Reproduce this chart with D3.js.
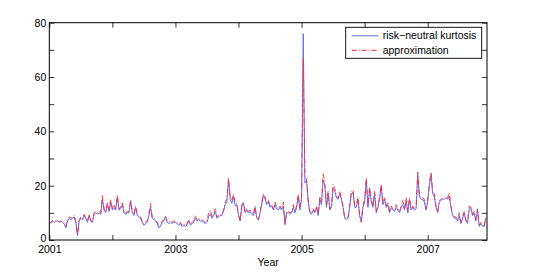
<!DOCTYPE html>
<html><head><meta charset="utf-8">
<script src="https://cdn.jsdelivr.net/npm/d3@7"></script>
<style>body{margin:0;background:#fff}svg{display:block}text{font-family:"Liberation Sans",Arial,Helvetica,sans-serif}</style>
</head><body><svg id="c" width="545" height="274"></svg>
<script>
const years = [2001, 2002, 2003, 2004, 2005, 2006, 2007];
const yTicks = [0, 10, 20, 30, 40, 50, 60, 70, 80];
const pointsPerYear = 38;
const seriesNames = ["risk\u2212neutral kurtosis", "approximation"];

const kurt2001 = [6,6.5,7,6.5,7,7,6.5,7,6.5,6,4.5,7,8,7.5,8,8.5,6.5,1.5,7,8,7.5,9,8,6.5,9,7,6.5,9.5,10,9.5,10,9.5,15,11,10,13,10.5,14];
const kurt2002 = [11,12,11,16,11,11.5,13,10,9.5,10,10,14.5,10,9,12,9,8.5,8,6.5,5.5,6,6.5,9,12,8,7.5,7,6,4.5,5,6.5,7,8.5,6.5,6,6.5,6,6.5];
const kurt2003 = [6.5,6,5.5,6,5,5.5,5,5.5,7,5.5,6,6.5,8,7,7.5,7,7,6.5,6,6.5,8.5,9.5,8,9,10.5,8,8.5,9,9,10.5,13,14,22,15,13.5,16,12.5,13];
const kurt2004 = [9,7,12.5,13.5,10,11,10,10.5,9.5,9,12,8,7.5,10,13,16.5,15,13,14,12,12.5,11,13,11.5,11,12,11,12.5,6,10,10,9.5,10,12,10,12,16,11];
const kurt2005 = [15,76,21,22,14,10,9.5,11,10,12,9,15,13,22,20,12,17,11,12,19,18,15.5,15,17,15,12,8,7.5,8,12,17,17.5,12,12,15,9,7,12];
const kurt2006 = [14,22,12,19,14,12,17,10,12,15,20,13,15,12,13,10,12,11,10.5,12,11,10,12,13,11,14.5,10,15,11,12,11,11.5,24,16,15,15,14,11];
const kurt2007 = [14,20,24,17,16,12,10,14,14.5,15,15,15.5,15,16,12,9,8,8,7,9,6,8,10,7,6,11,12,9,10,7,11,5,6,5,5,8];

const approx2001 = [6,6.5,7,7,7,7,6.5,7,6.5,6,5,7.5,8.5,8,8.5,9,7,2,7.5,8.5,8,9.5,8,7,9.5,7,7,10,10.5,10,10.5,10,16.5,11.5,10.5,14,11,15];
const approx2002 = [11.5,13,11.5,16.5,11.5,12,14,10.5,10,10.5,10.5,14.5,10.5,9.5,12.5,9.5,9,8.5,7,6,6.5,7,9.5,13.5,8.5,8,7.5,6.5,5,5.5,7,7.5,9,7,6.5,7,6.5,7];
const approx2003 = [7,6.5,6,6.5,5.5,6,5.5,6,7.5,6,6.5,7,9,7.5,8,7.5,7.5,7,6.5,7,10,11,8.5,9.5,11.5,8.5,9,9.5,9.5,11,14,15,23,16,14.5,17,13.5,13.5];
const approx2004 = [9.5,7,13,14,10.5,11.5,10.5,11,10,9.5,12.5,8,7.5,10.5,14,17,16,13.5,14.5,12.5,13,11.5,14,12,11.5,12.5,11.5,14,5.5,10.5,10.5,10,10.5,13,10.5,12.5,17,12];
const approx2005 = [16,67,23,22.5,15,10.5,10,11.5,10.5,12.5,9.5,16,14,24.5,21,13,18,11.5,12.5,20.5,19,16,15.5,18,15.5,12.5,8,8,8.5,13,18,18.5,12.5,12.5,16,8.5,6.5,13];
const approx2006 = [15,23,12.5,19.5,15,12.5,18,10.5,12.5,16,20.5,13.5,15.5,12.5,14,10.5,12.5,11.5,11,13,11.5,10.5,12.5,14.5,11.5,15.5,10.5,15.5,11.5,12.5,11.5,12,25,16.5,15.5,15.5,15,11.5];
const approx2007 = [15,21,25,18,17,12.5,10.5,14.5,15,15.5,15.5,16,15.5,17.5,12.5,9.5,8.5,8.5,7.5,10,6.5,8.5,10.5,7.5,6.5,12.5,12,9.5,10.5,7.5,11.5,5.5,6.5,5.5,5,8.5];

const kurtByYear = [kurt2001, kurt2002, kurt2003, kurt2004, kurt2005, kurt2006, kurt2007];
const approxByYear = [approx2001, approx2002, approx2003, approx2004, approx2005, approx2006, approx2007];

function toPoints(byYear) {
  const pts = [];
  byYear.forEach((arr, k) => arr.forEach((v, i) => pts.push({ t: years[k] + i / pointsPerYear, v })));
  return pts;
}
const kurtPts = toPoints(kurtByYear);
const approxPts = toPoints(approxByYear);

const L = 49.3, R = 487, T = 22.7, B = 240;
const svg = d3.select("#c");
const x = d3.scaleLinear().domain([2001, 2007.94]).range([L, R]);
const y = d3.scaleLinear().domain([0, 80]).range([B, T]);

svg.append("defs").append("clipPath").attr("id", "clip")
  .append("rect").attr("x", L).attr("y", T).attr("width", R - L).attr("height", B - T);

const fs = 10.5;
function styleAxis(g, labels) {
  g.select(".domain").remove();
  g.selectAll(".tick line").attr("stroke", "#000").attr("stroke-width", 0.8);
  g.selectAll("text").attr("fill", "#000").style("font-size", fs + "px");
  if (!labels) g.selectAll("text").remove();
}

svg.append("g").attr("transform", `translate(0,${B})`)
  .call(d3.axisBottom(x).tickValues(years).tickSize(-5).tickPadding(6)
    .tickFormat(d => (d % 2 === 1 ? String(d) : "")))
  .call(g => styleAxis(g, true));
svg.append("g").attr("transform", `translate(0,${T})`)
  .call(d3.axisTop(x).tickValues(years).tickSize(-5))
  .call(g => styleAxis(g, false));
svg.append("g").attr("transform", `translate(${L},0)`)
  .call(d3.axisLeft(y).tickValues(yTicks).tickSize(-5).tickPadding(3)
    .tickFormat(d => (d % 20 === 0 ? String(d) : "")))
  .call(g => styleAxis(g, true))
  .call(g => g.selectAll("text").filter(d => d === 0).attr("dy", "0.1em"));
svg.append("g").attr("transform", `translate(${R},0)`)
  .call(d3.axisRight(y).tickValues(yTicks).tickSize(-5))
  .call(g => styleAxis(g, false));

const line = d3.line().x(d => x(d.t)).y(d => y(d.v));
const plot = svg.append("g").attr("clip-path", "url(#clip)");
plot.append("path").datum(kurtPts).attr("d", line)
  .attr("fill", "none").attr("stroke", "#6070ff").attr("stroke-width", 1);
plot.append("path").datum(approxPts).attr("d", line)
  .attr("fill", "none").attr("stroke", "#ff2a2a").attr("stroke-width", 0.9)
  .attr("stroke-dasharray", "5,2,1,2");

svg.append("rect").attr("x", L).attr("y", T).attr("width", R - L).attr("height", B - T)
  .attr("fill", "none").attr("stroke", "#000").attr("stroke-width", 1);

svg.append("text").attr("x", (L + R) / 2).attr("y", 266).attr("text-anchor", "middle")
  .style("font-size", fs + "px").attr("fill", "#000").text("Year");

// legend
const lg = svg.append("g");
lg.append("rect").attr("x", 345.7).attr("y", 27.3).attr("width", 136).attr("height", 31)
  .attr("fill", "#fff").attr("stroke", "#000").attr("stroke-width", 0.9);
const rows = [
  { name: seriesNames[0], color: "#6070ff", dash: null, y: 35.8 },
  { name: seriesNames[1], color: "#ff2a2a", dash: "5,2,1,2", y: 50.3 }
];
rows.forEach(r => {
  lg.append("line").attr("x1", 351.7).attr("x2", 378.3).attr("y1", r.y).attr("y2", r.y)
    .attr("stroke", r.color).attr("stroke-width", 1).attr("stroke-dasharray", r.dash);
  lg.append("text").attr("x", 382.7).attr("y", r.y).attr("dy", "0.35em")
    .style("font-size", fs + "px").attr("fill", "#000").text(r.name);
});
</script></body></html>
